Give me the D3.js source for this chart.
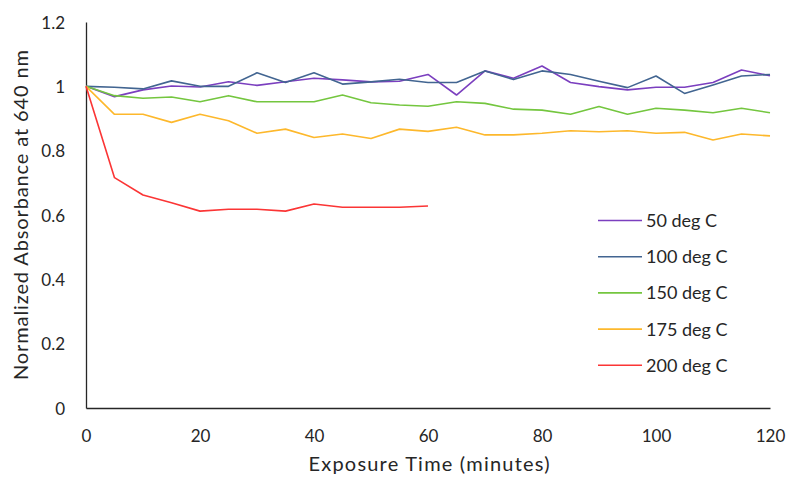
<!DOCTYPE html>
<html>
<head>
<meta charset="utf-8">
<script src="https://cdn.jsdelivr.net/npm/d3@7"></script>
<style>
  html, body { margin: 0; padding: 0; background: #fff; }
  svg text { font-family: Lato, "Open Sans", sans-serif; fill: #262626; }
</style>
</head>
<body>
<svg id="chart" width="791" height="477"></svg>
<script>
// Exposure times (minutes)
const timesFull = [0,5,10,15,20,25,30,35,40,45,50,55,60,65,70,75,80,85,90,95,100,105,110,115,120];
const timesShort = [0,5,10,15,20,25,30,35,40,45,50,55,60];

// Normalized absorbance at 640 nm for each temperature
const abs50  = [1.000,0.968,0.989,1.001,0.998,1.014,1.003,1.014,1.025,1.020,1.014,1.016,1.037,0.973,1.048,1.025,1.063,1.012,0.999,0.989,0.997,0.997,1.012,1.051,1.033];
const abs100 = [1.000,0.997,0.992,1.017,1.000,1.000,1.042,1.012,1.042,1.007,1.014,1.022,1.012,1.012,1.048,1.021,1.048,1.037,1.016,0.996,1.032,0.978,1.004,1.032,1.037];
const abs150 = [1.000,0.971,0.963,0.967,0.952,0.971,0.952,0.952,0.952,0.973,0.949,0.942,0.938,0.952,0.947,0.929,0.926,0.913,0.937,0.913,0.932,0.926,0.918,0.932,0.918];
const abs175 = [1.000,0.913,0.913,0.888,0.913,0.893,0.854,0.867,0.841,0.852,0.838,0.867,0.860,0.873,0.849,0.849,0.854,0.862,0.859,0.862,0.854,0.857,0.833,0.852,0.846];
const abs200 = [1.000,0.716,0.662,0.638,0.612,0.618,0.618,0.612,0.634,0.624,0.624,0.624,0.628];

const seriesNames = ["50 deg C","100 deg C","150 deg C","175 deg C","200 deg C"];
const seriesColors = ["#7b3fbf","#426591","#74c63f","#fdb82c","#fb3535"];
const xTicks = [0,20,40,60,80,100,120];
const yTicks = [0,0.2,0.4,0.6,0.8,1,1.2];

const series = [
  { name: seriesNames[0], color: seriesColors[0], x: timesFull,  y: abs50 },
  { name: seriesNames[1], color: seriesColors[1], x: timesFull,  y: abs100 },
  { name: seriesNames[2], color: seriesColors[2], x: timesFull,  y: abs150 },
  { name: seriesNames[3], color: seriesColors[3], x: timesFull,  y: abs175 },
  { name: seriesNames[4], color: seriesColors[4], x: timesShort, y: abs200 }
];

const svg = d3.select("#chart");
const plot = { left: 86, right: 770, top: 22, bottom: 408 };

const x = d3.scaleLinear().domain([0, 120]).range([plot.left, plot.right]);
const y = d3.scaleLinear().domain([0, 1.2]).range([plot.bottom, plot.top]);

// Axes: plain lines, no tick marks
const xAxis = d3.axisBottom(x).tickValues(xTicks).tickSize(0).tickPadding(22).tickFormat(d3.format("d"));
const yAxis = d3.axisLeft(y).tickValues(yTicks).tickSize(0).tickPadding(21).tickFormat(d => d3.format("~g")(d));

const gx = svg.append("g").attr("transform", `translate(0,${plot.bottom})`).call(xAxis);
const gy = svg.append("g").attr("transform", `translate(${plot.left},0)`).call(yAxis);
[gx, gy].forEach(g => {
  g.select(".domain").attr("stroke", "#262626").attr("stroke-width", 1.3);
  g.selectAll("text").attr("font-size", 17).style("fill", "#262626");
});
gy.selectAll("text").attr("dy", "0.36em");

// Series lines
const line = d3.line().x(d => x(d[0])).y(d => y(d[1]));
svg.append("g").selectAll("path").data(series).join("path")
  .attr("fill", "none")
  .attr("stroke", d => d.color)
  .attr("stroke-width", 1.6)
  .attr("stroke-linejoin", "round")
  .attr("d", d => line(d.x.map((t, i) => [t, d.y[i]])));

// Axis titles
svg.append("text")
  .attr("x", 429).attr("y", 471)
  .attr("text-anchor", "middle")
  .attr("font-size", 20)
  .attr("textLength", 241)
  .attr("lengthAdjust", "spacing")
  .text("Exposure Time (minutes)");
svg.append("text")
  .attr("transform", "translate(28,215) rotate(-90)")
  .attr("text-anchor", "middle")
  .attr("font-size", 20)
  .attr("textLength", 330)
  .attr("lengthAdjust", "spacing")
  .text("Normalized Absorbance at 640 nm");

// Legend
const legend = svg.append("g").selectAll("g").data(series).join("g")
  .attr("transform", (d, i) => `translate(598,${220.5 + i * 36.2})`);
legend.append("line")
  .attr("x1", 0).attr("x2", 44).attr("y1", 0).attr("y2", 0)
  .attr("stroke", d => d.color).attr("stroke-width", 1.6);
legend.append("text")
  .attr("x", 48).attr("y", 0).attr("dy", "0.36em")
  .attr("font-size", 18)
  .text(d => d.name);
</script>
</body>
</html>
